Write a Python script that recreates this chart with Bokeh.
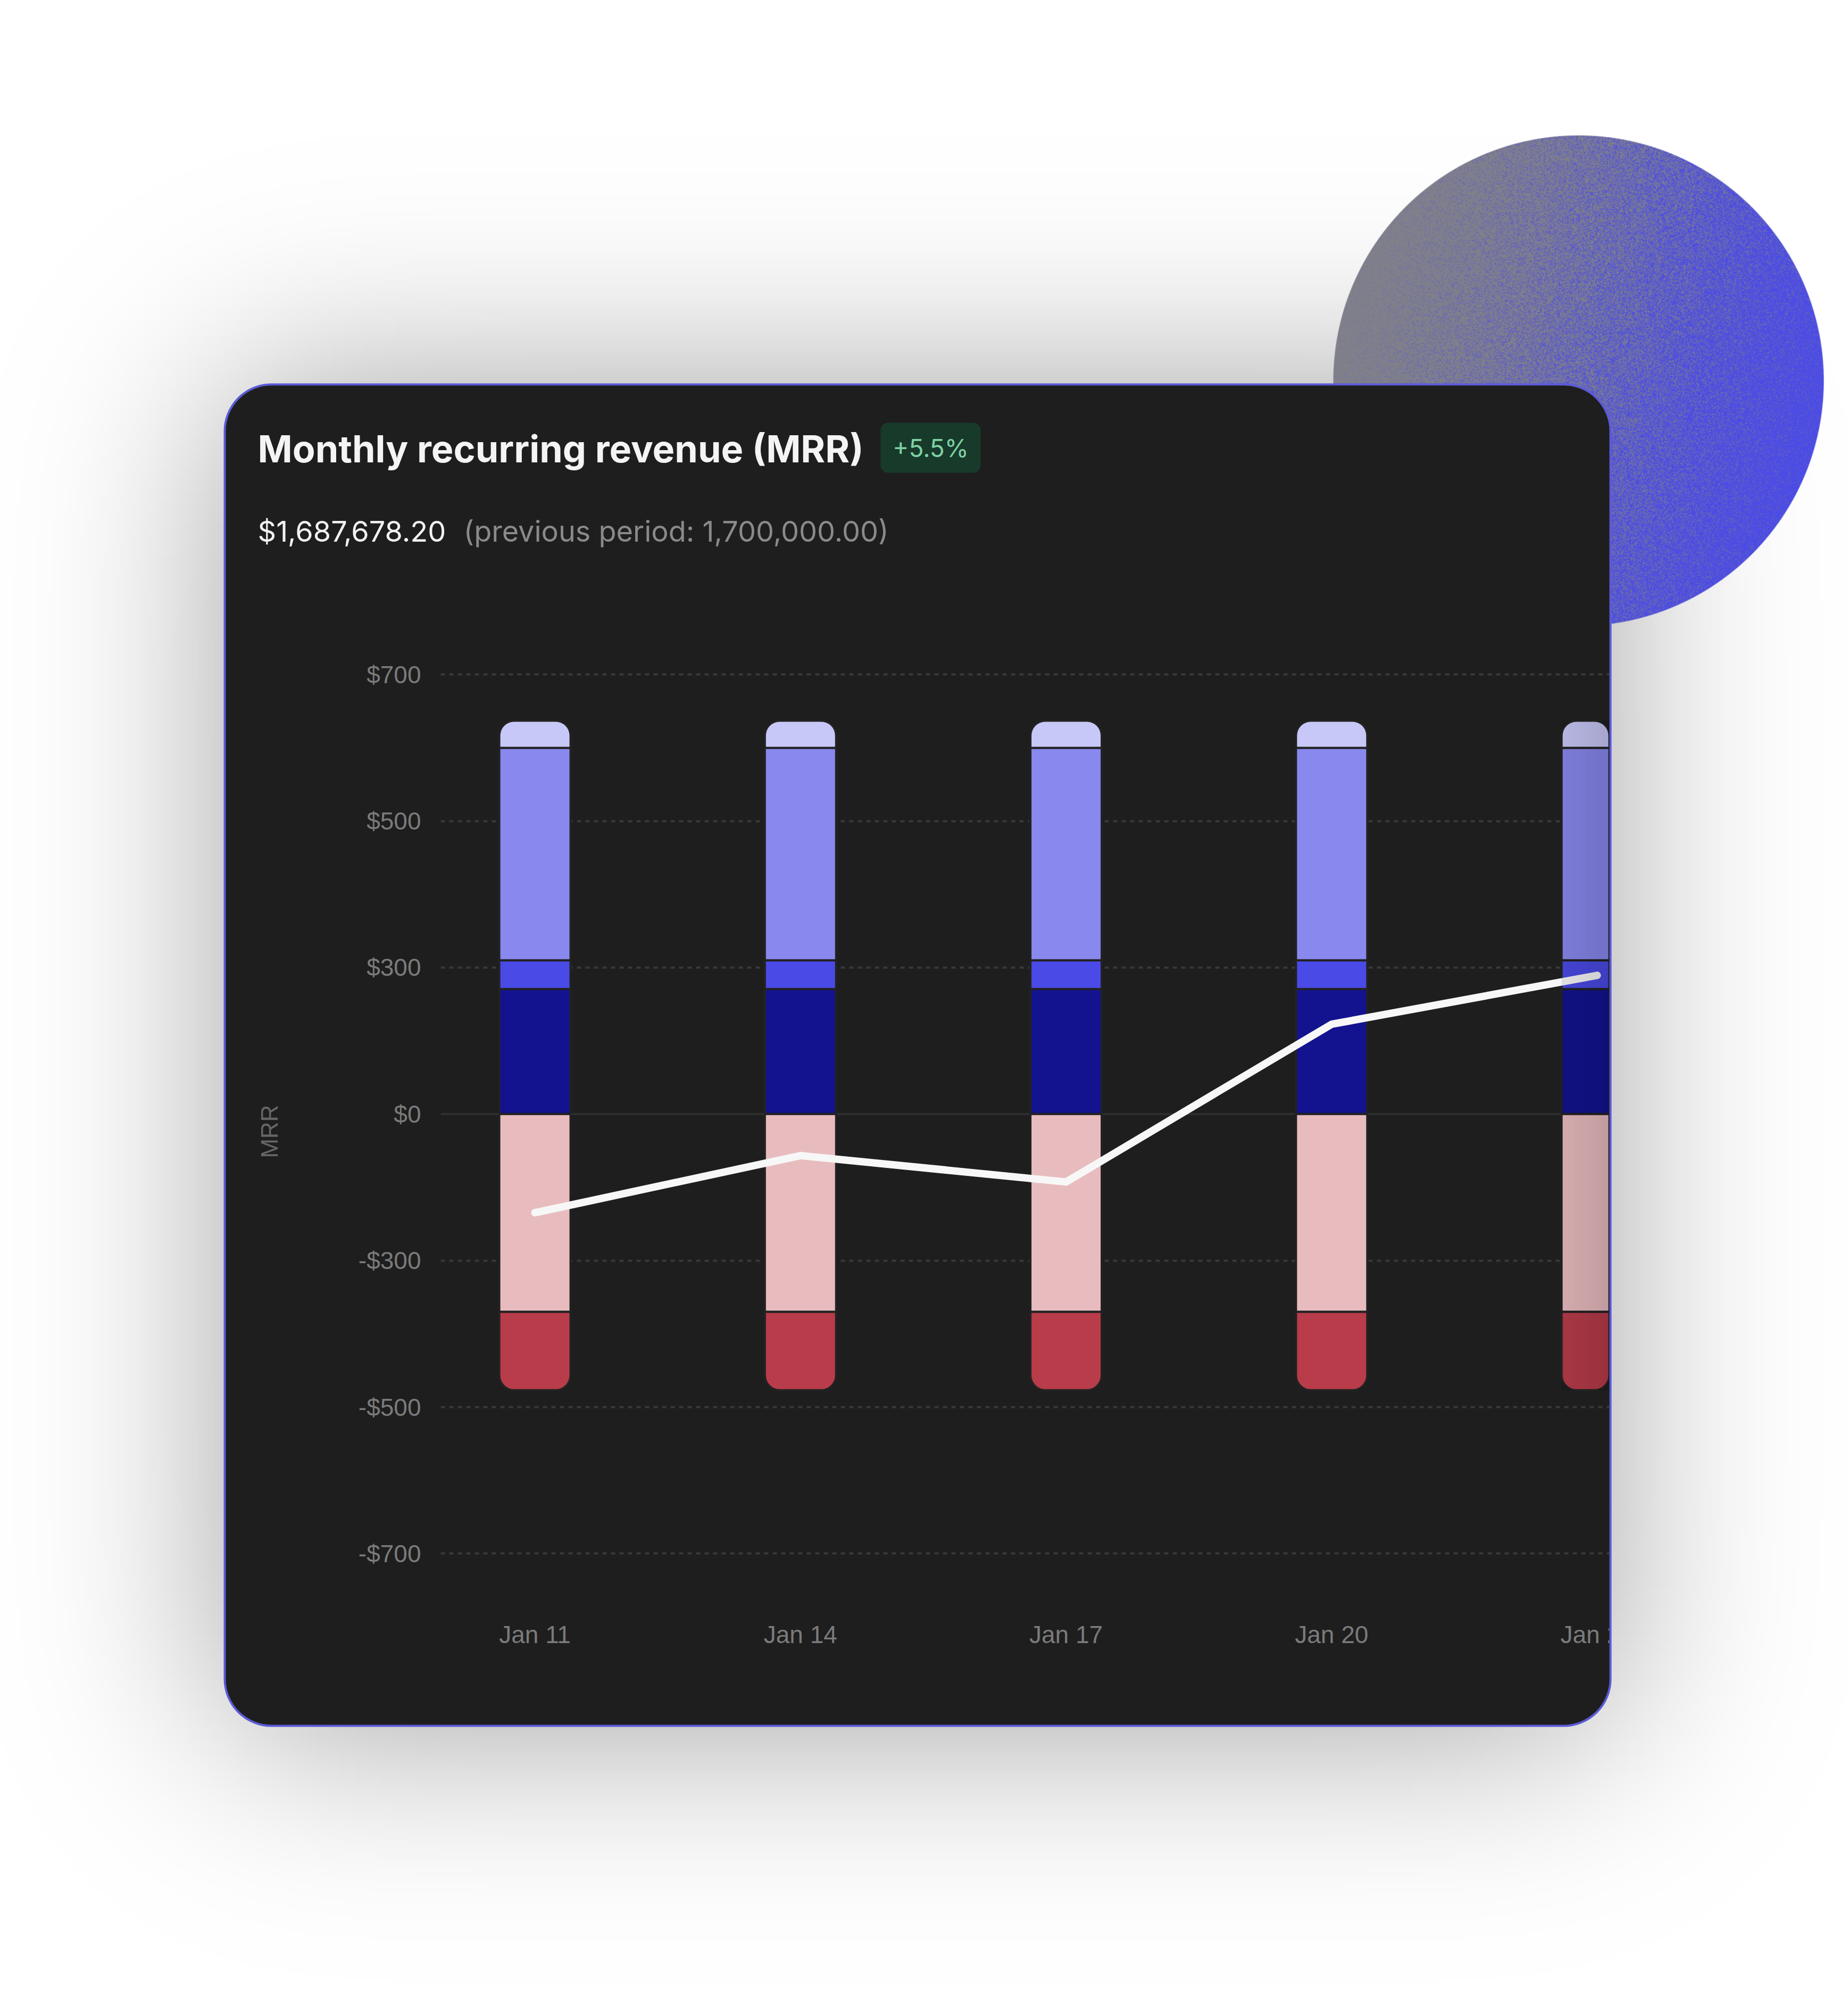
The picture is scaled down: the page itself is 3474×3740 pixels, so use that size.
import math
import numpy as np
from bokeh.plotting import figure
from bokeh.models import Range1d, FixedTicker, Span
from bokeh.core.properties import value
from bokeh.embed import file_html
from bokeh.resources import INLINE

# ---------------- data ----------------
days = [11, 14, 17, 20, 23]
day_labels = ["Jan 11", "Jan 14", "Jan 17", "Jan 20", "Jan 23"]

# positive MRR movements (stacked upwards from $0)
existing_mrr = [256, 256, 256, 256, 256]
new_mrr = [54, 54, 54, 54, 54]
expansion_mrr = [290, 290, 290, 290, 290]
reactivation_mrr = [37, 37, 37, 37, 37]
# negative MRR movements (stacked downwards from $0)
contraction_mrr = [-370, -370, -370, -370, -370]
churned_mrr = [-107, -107, -107, -107, -107]
# net MRR line
net_mrr = [-202, -85, -139, 184, 284]

tick_values = [-700, -500, -300, 0, 300, 500, 700]
tick_labels = ["-$700", "-$500", "-$300", "$0", "$300", "$500", "$700"]

title_text = "Monthly recurring revenue (MRR)"
badge_text = "+5.5%"
total_text = "$1,687,678.20"
previous_text = "(previous period: 1,700,000.00)"

# ---------------- page geometry ----------------
W, H = 3474, 3740
CARD_L, CARD_R, CARD_T, CARD_B = 422, 3027, 722, 3243
CX, CY, CR = 2967, 715, 461

# the value axis uses evenly spaced tick slots, one slot per labelled value
tick_slots = list(range(-3, 4))


def to_slot(v):
    return np.interp(np.asarray(v, dtype=float), tick_values, tick_slots)


def rgba_image(rgb, alpha):
    h, w = alpha.shape
    img = np.empty((h, w), dtype=np.uint32)
    view = img.view(dtype=np.uint8).reshape((h, w, 4))
    view[..., 0] = rgb[..., 0]
    view[..., 1] = rgb[..., 1]
    view[..., 2] = rgb[..., 2]
    view[..., 3] = np.clip(np.round(alpha * 255), 0, 255).astype(np.uint8)
    return img[::-1]  # bokeh puts row 0 at the bottom


# ---------------- page: background, shadow, disc, card ----------------
page = figure(width=W, height=H, x_range=Range1d(0, W), y_range=Range1d(0, H),
              x_axis_type=None, y_axis_type=None, output_backend="svg",
              toolbar_location=None, min_border=0, outline_line_color=None,
              background_fill_color="#ffffff", border_fill_color="#ffffff")
page.grid.visible = False

# soft drop shadow of the card (gaussian-blurred rectangle)
step = 6
nx, ny = math.ceil(W / step), math.ceil(H / step)
sx = np.arange(nx) * step + step / 2
sy = np.arange(ny) * step + step / 2


def blurred_band(coords, lo, hi, sigma):
    s = sigma * math.sqrt(2)
    return np.array([0.5 * (math.erf((c - lo) / s) - math.erf((c - hi) / s)) for c in coords])


shadow_alpha = 0.37 * np.outer(blurred_band(sy, CARD_T, CARD_B + 10, 185),
                               blurred_band(sx, CARD_L, CARD_R, 185))
shadow_rgb = np.zeros(shadow_alpha.shape + (3,), dtype=np.uint8)
page.image_rgba(image=[rgba_image(shadow_rgb, shadow_alpha)], x=0, y=H - ny * step,
                dw=nx * step, dh=ny * step)

# grainy gradient disc behind the card
size = 2 * CR + 4
x0, y0 = CX - CR - 2, CY - CR - 2
px = np.arange(size) + 0.5 + x0
py = np.arange(size) + 0.5 + y0
X, Y = np.meshgrid(px, py)
dist = np.hypot(X - CX, Y - CY)
edge = np.clip(CR - dist + 0.5, 0, 1)
ang = math.radians(15)
t = ((X - CX) * math.cos(ang) + (Y - CY) * math.sin(ang)) / (2 * CR) + 0.5
grain = 2
gi = np.arange(size) // grain
GI, GJ = np.meshgrid(gi, gi)
hashv = np.modf(np.abs(np.sin(GI * 12.9898 + GJ * 78.233) * 43758.5453))[0]
mix = np.clip(1.55 * t - 0.35 + (hashv - 0.5) * 1.0, 0, 1)[..., None]
gray = np.array([128.0, 128.0, 138.0])
blue = np.array([75.0, 75.0, 230.0])
disc_rgb = np.round(gray * (1 - mix) + blue * mix).astype(np.uint8)
page.image_rgba(image=[rgba_image(disc_rgb, edge)], x=x0, y=H - (y0 + size), dw=size, dh=size)

# card
page.quad(left=[CARD_L], right=[CARD_R], bottom=[H - CARD_B], top=[H - CARD_T],
          fill_color="#1e1e1e", line_color="#5a5ad8", line_width=4, border_radius=88)

# headline texts
page.text(x=[484], y=[H - 843], text=[title_text], text_font=value("Inter"),
          text_font_size="70px", text_font_style="bold", text_color="#f4f4f4",
          text_align="left", text_baseline="middle")
page.quad(left=[1655], right=[1843], top=[H - 794], bottom=[H - 888],
          fill_color="#173a2b", line_color=None, border_radius=14)
page.text(x=[1749], y=[H - 841], text=[badge_text], text_font=value("Inter"),
          text_font_size="46px", text_color="#7fd1a3", text_align="center",
          text_baseline="middle")
page.text(x=[484], y=[H - 998], text=[total_text], text_font=value("Inter"),
          text_font_size="54px", text_color="#f2f2f2", text_align="left",
          text_baseline="middle")
page.text(x=[871], y=[H - 998], text=[previous_text], text_font=value("Inter"),
          text_font_size="54px", text_color="#8a8a8a", text_align="left",
          text_baseline="middle")

# ---------------- chart ----------------
CH_LEFT, CH_TOP = 440, 1150
FRAME_W, FRAME_H = 2197, 1752
BORDER_L, BORDER_R, BORDER_T, BORDER_B = 388, 115, 100, 148
X0, X1 = 9.936, 23.138
Y0, Y1 = -3.3, 3.0625
chart = figure(frame_width=FRAME_W, frame_height=FRAME_H,
               x_range=Range1d(X0, X1), y_range=Range1d(Y0, Y1),
               output_backend="svg", toolbar_location=None,
               min_border_left=BORDER_L, min_border_right=BORDER_R,
               min_border_top=BORDER_T, min_border_bottom=BORDER_B,
               background_fill_color=None, border_fill_color=None,
               outline_line_color=None)
# the chart sits on the card; everything past the card's right edge is hidden
chart.styles = {"position": "absolute", "left": f"{CH_LEFT}px", "top": f"{CH_TOP}px",
                "clip-path": f"inset(0px {BORDER_R}px 0px 0px)"}

chart.xgrid.visible = False
chart.ygrid.ticker = FixedTicker(ticks=[s for s in tick_slots if s != 0])
chart.ygrid.grid_line_color = "#393939"
chart.ygrid.grid_line_width = 4
chart.ygrid.grid_line_dash = "8 8"
chart.add_layout(Span(location=0, dimension="width", line_color="#2f2f2f",
                      line_width=4, level="underlay"))

chart.xaxis.ticker = FixedTicker(ticks=days)
chart.xaxis.major_label_overrides = dict(zip(days, day_labels))
chart.yaxis.ticker = FixedTicker(ticks=tick_slots)
chart.yaxis.major_label_overrides = dict(zip(tick_slots, tick_labels))
chart.yaxis.axis_label = "MRR"
for ax in (chart.xaxis, chart.yaxis):
    ax.axis_line_color = None
    ax.major_tick_line_color = None
    ax.minor_tick_line_color = None
    ax.major_label_text_font = "Liberation Sans"
    ax.major_label_text_font_size = "46px"
    ax.major_label_text_color = "#7b7b7b"
chart.xaxis.major_label_standoff = 37
chart.yaxis.major_label_standoff = 31
chart.yaxis.axis_label_standoff = 140
chart.yaxis.axis_label_text_font = "Liberation Sans"
chart.yaxis.axis_label_text_font_size = "44px"
chart.yaxis.axis_label_text_font_style = "normal"
chart.yaxis.axis_label_text_color = "#666666"

BAR_W = 0.805
SEP = "#222222"


def stack(series_list, colors, radii):
    base = np.zeros(len(days))
    for vals, color, rad in zip(series_list, colors, radii):
        top = base + np.asarray(vals, dtype=float)
        chart.vbar(x=days, width=BAR_W, bottom=to_slot(base), top=to_slot(top),
                   fill_color=color, line_color=SEP, line_width=4, border_radius=rad)
        base = top
    return base


pos_series = [existing_mrr, new_mrr, expansion_mrr, reactivation_mrr]
neg_series = [contraction_mrr, churned_mrr]
pos_total = stack(pos_series, ["#131390", "#4a4ae6", "#8888ee", "#c8c8f8"],
                  [0, 0, 0, (28, 28, 0, 0)])
neg_total = stack(neg_series, ["#e8bcbf", "#b83c4a"], [0, (0, 0, 28, 28)])

chart.line(x=days, y=to_slot(net_mrr), line_color="#f7f7f7", line_width=14,
           line_join="round", line_cap="round")

# the latest bar fades darker towards the card's right edge
last_left = days[-1] - BAR_W / 2
ramp = np.linspace(0.09, 0.17, 64)[None, :]
fade_rgb = np.zeros(ramp.shape + (3,), dtype=np.uint8)
fade_bottom = float(to_slot(neg_total[-1]))
fade_top = float(to_slot(pos_total[-1]))
chart.image_rgba(image=[rgba_image(fade_rgb, ramp)], x=last_left, y=fade_bottom,
                 dw=X1 - last_left, dh=fade_top - fade_bottom)

open("out.html", "w").write(file_html([page, chart], INLINE))
